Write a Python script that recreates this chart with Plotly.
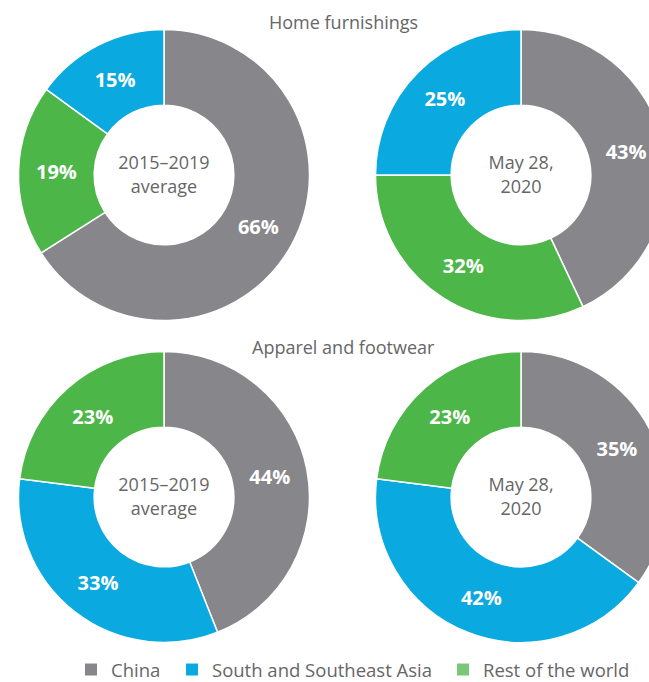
import plotly.graph_objects as go

W, H = 690, 682

regions = ["China", "South and Southeast Asia", "Rest of the world"]
colors = {"China": "#87878b", "South and Southeast Asia": "#0aa9e0", "Rest of the world": "#4cb748"}
legend_colors = {"China": "#87878b", "South and Southeast Asia": "#0aa9e0", "Rest of the world": "#79c879"}

home_labels = ["China", "Rest of the world", "South and Southeast Asia"]
home_avg = [66, 19, 15]
home_2020 = [43, 32, 25]

apparel_labels = ["China", "South and Southeast Asia", "Rest of the world"]
apparel_avg = [44, 33, 23]
apparel_2020 = [35, 42, 23]

panel_titles = ["Home furnishings", "Apparel and footwear"]
center_texts = ["2015–2019<br>average", "May 28,<br>2020"]

FONT = "Open Sans"
GRAY_TXT = "#666666"

# pixel geometry of the donuts (centre x, centre y, radius)
R = 145.5
cxs = [164, 521]
cys = [175, 497]


def dom(cx, cy):
    return dict(x=[(cx - R) / W, (cx + R) / W],
                y=[1 - (cy + R) / H, 1 - (cy - R) / H])


fig = go.Figure()

panels = [
    (home_labels, home_avg, 0, 0, 0),
    (home_labels, home_2020, 0, 1, 1),
    (apparel_labels, apparel_avg, 1, 0, 0),
    (apparel_labels, apparel_2020, 1, 1, 1),
]

for labels, vals, row, col, ct in panels:
    fig.add_trace(go.Pie(
        labels=labels, values=vals, sort=False, direction="clockwise", rotation=0,
        hole=0.48, domain=dom(cxs[col], cys[row]),
        marker=dict(colors=[colors[l] for l in labels], line=dict(color="white", width=1.5)),
        texttemplate="%{value}%", textposition="inside", insidetextorientation="horizontal",
        textfont=dict(family=FONT, size=20, color="white", weight="bold"),
        title=dict(text=center_texts[ct], position="middle center",
                   font=dict(family=FONT, size=18, color=GRAY_TXT)),
        showlegend=False, hoverinfo="label+value",
    ))

legend_ids = ["legend", "legend2", "legend3"]
legend_x = [71, 172, 443]
for r, lid in zip(regions, legend_ids):
    fig.add_trace(go.Scatter(
        x=[None], y=[None], mode="markers", name=r, legend=lid,
        marker=dict(symbol="square", size=12, color=legend_colors[r]),
        showlegend=True,
    ))

for i, t in enumerate(panel_titles):
    fig.add_annotation(text=t, x=343 / W, y=1 - [22, 347][i] / H, xref="paper", yref="paper",
                       showarrow=False, xanchor="center", yanchor="middle",
                       font=dict(family=FONT, size=18, color=GRAY_TXT))

legend_style = dict(orientation="h", xanchor="left", xref="container",
                    y=1 - 670 / H, yanchor="middle", yref="container",
                    font=dict(family=FONT, size=18.5, color=GRAY_TXT), itemclick=False,
                    bgcolor="rgba(0,0,0,0)")

fig.update_layout(
    width=W, height=H, margin=dict(l=0, r=0, t=0, b=0, autoexpand=False),
    paper_bgcolor="white", plot_bgcolor="white",
    xaxis=dict(visible=False), yaxis=dict(visible=False),
    showlegend=True,
    legend=dict(x=legend_x[0] / W, **legend_style),
    legend2=dict(x=legend_x[1] / W, **legend_style),
    legend3=dict(x=legend_x[2] / W, **legend_style),
)

fig.write_html("out.html", config={"displayModeBar": False},
               post_script="document.body.style.margin='0';document.body.style.overflow='hidden';")
